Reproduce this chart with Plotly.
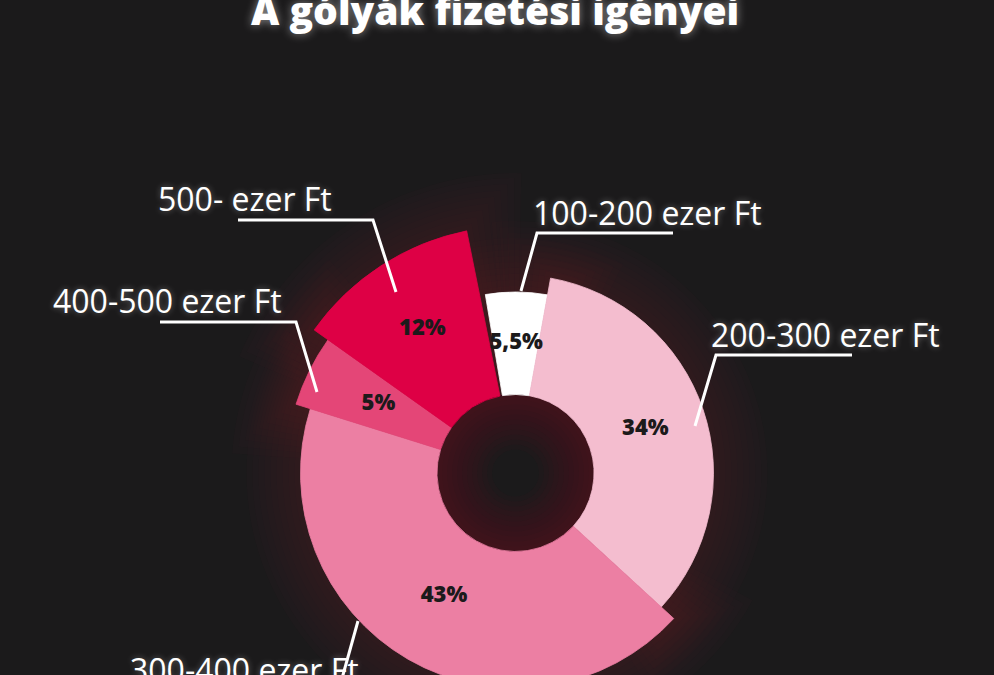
import plotly.graph_objects as go
import numpy as np

# Data: salary expectations of freshmen (share of answers, %), clockwise from the top
categories = ["100-200 ezer Ft", "200-300 ezer Ft", "300-400 ezer Ft",
              "400-500 ezer Ft", "500- ezer Ft"]
shares = [5.5, 34, 43, 5, 12]
pct_labels = ["5,5%", "34%", "43%", "5%", "12%"]

# Styling (not data): slice colours, outer radius per slice and radius of the % text (px)
colors = ["#ffffff", "#f4bdcf", "#ec7fa3", "#e44677", "#de0045"]
outer_radius = [181, 198, 215, 230, 247]
text_radius = [130, 137, 143, 153, 171]

CX, CY = 515.5, 473      # donut centre (px from top-left)
R = 300                  # polar radius in px (room for the glow)
W, H = 994, int(CY + R)  # the page only shows the top 675 px, like the cropped original
HOLE = 78.5              # hole radius in px
BG = "#1b1a1b"
GLOW = "rgba(125,15,45,0.035)"


def px(x):
    return x / W


def py(y):
    return 1 - y / H


# Angles: each slice width from its share, start just left of 12 o'clock
start = -9.6
widths = np.array(shares) * 3.6
centers = start + np.cumsum(widths) - widths / 2

fig = go.Figure()

# Soft red glow that follows every slice
for k in range(6, 60, 6):
    fig.add_trace(go.Barpolar(
        r=[o - HOLE + k for o in outer_radius],
        base=HOLE,
        theta=centers,
        width=widths + np.degrees(k / np.array(outer_radius)) * 2,
        marker=dict(color=GLOW, line=dict(width=0)),
        hoverinfo="skip",
        showlegend=False,
    ))

# Glow inside the hole (rings fading towards the centre)
for k in range(5, 60, 5):
    fig.add_trace(go.Barpolar(
        r=[k], base=HOLE - k, theta=[0], width=[360],
        marker=dict(color="rgba(125,15,45,0.05)", line=dict(width=0)),
        hoverinfo="skip",
        showlegend=False,
    ))

fig.add_trace(go.Barpolar(
    r=[o - HOLE for o in outer_radius],
    base=HOLE,
    theta=centers,
    width=widths,
    marker=dict(color=colors, line=dict(width=0.8, color=colors)),
    hoverinfo="skip",
    showlegend=False,
))

fig.add_trace(go.Scatterpolar(
    r=text_radius,
    theta=centers,
    mode="text",
    text=pct_labels,
    textfont=dict(family="Open Sans", size=22, color="#1c1a1b", weight=800),
    hoverinfo="skip",
    showlegend=False,
))

# Leader lines
shapes = []
leaders = [
    [(238, 220), (373, 220), (396, 292)],
    [(160, 322), (296, 322), (317, 392)],
    [(673, 233), (537, 233), (521, 291)],
    [(852, 355), (716, 355), (695, 426)],
    [(358, 621), (336, 700)],
]
for pts in leaders:
    path = "M " + " L ".join(f"{px(x):.5f},{py(y):.5f}" for x, y in pts)
    shapes.append(dict(type="path", xref="paper", yref="paper", path=path,
                       line=dict(color="white", width=3)))

# Category labels
label_pos = {
    "500- ezer Ft": (245, 198),
    "400-500 ezer Ft": (167, 300),
    "100-200 ezer Ft": (647, 212),
    "200-300 ezer Ft": (825, 334),
    "300-400 ezer Ft": (244, 669),
}
for name, (x, y) in label_pos.items():
    fig.add_annotation(text=name, xref="paper", yref="paper", x=px(x), y=py(y),
                       showarrow=False, xanchor="center", yanchor="middle",
                       font=dict(family="Open Sans", size=32, color="white",
                                 shadow="0px 0px 6px rgba(255,255,255,0.35)"))

# Title (cropped at the top, as in the original)
fig.add_annotation(text="A gólyák fizetési igényei", xref="paper", yref="paper",
                   x=px(495), y=py(10), showarrow=False, xanchor="center", yanchor="middle",
                   font=dict(family="Open Sans", size=39, color="white", weight=800,
                             shadow="0px 0px 10px rgba(255,255,255,0.5)"))

fig.update_layout(
    width=W, height=H,
    margin=dict(l=0, r=0, t=0, b=0),
    paper_bgcolor=BG,
    plot_bgcolor=BG,
    shapes=shapes,
    polar=dict(
        domain=dict(x=[px(CX - R), px(CX + R)], y=[0, 2 * R / H]),
        bgcolor="rgba(0,0,0,0)",
        hole=0,
        radialaxis=dict(visible=False, range=[0, R]),
        angularaxis=dict(visible=False, rotation=90, direction="clockwise"),
    ),
)

page_css = (
    "document.body.style.margin='0';"
    "document.body.style.overflow='hidden';"
    f"document.body.style.background='{BG}';"
)
fig.write_html("out.html", post_script=page_css, config={"displayModeBar": False})
